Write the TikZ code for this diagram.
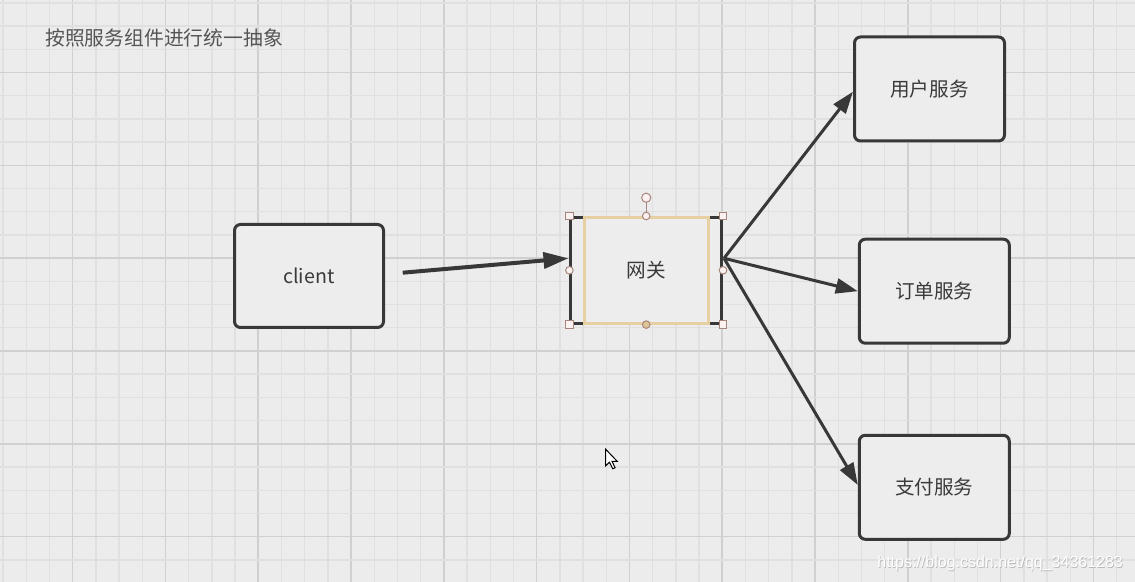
\documentclass[tikz,border=0pt]{standalone}
\usepackage{fontspec}
\setmainfont{Noto Sans CJK SC}
\newfontfamily\wmfont{Liberation Sans}
\usetikzlibrary{arrows.meta}
\definecolor{bg}{HTML}{ECECEC}
\definecolor{gridminor}{HTML}{E0E0E0}
\definecolor{gridmajor}{HTML}{D0D0D0}
\definecolor{boxline}{HTML}{383838}
\definecolor{boxfill}{HTML}{EDEDED}
\definecolor{txt}{HTML}{3A3A3A}
\definecolor{titletxt}{HTML}{555555}
\definecolor{selyellow}{HTML}{E6D0A2}
\definecolor{handleline}{HTML}{A8857C}
\definecolor{handlefill}{HTML}{FBF1F0}
\definecolor{handletan}{HTML}{DCC597}
\definecolor{wmshade}{HTML}{B8B8B8}
\begin{document}
\begin{tikzpicture}[x=0.5pt,y=-0.5pt,
  svc/.style={draw=boxline, line width=1.5pt, rounded corners=3pt, fill=boxfill,
    minimum width=75pt, minimum height=52pt, inner sep=0pt,
    font=\fontsize{9.8pt}{12pt}\selectfont, text=txt},
  link/.style={draw=boxline, line width=1.5pt,
    -{Triangle[length=11pt,width=7.5pt]}},
  biglink/.style={draw=boxline, line width=2pt,
    -{Triangle[length=12.5pt,width=8pt]}},
  sqhandle/.style={draw=handleline, fill=handlefill, line width=0.5pt,
    minimum size=3.6pt, inner sep=0pt, rectangle},
  cirhandle/.style={draw=handleline, fill=handlefill, line width=0.5pt,
    minimum size=3.8pt, inner sep=0pt, circle},
  minorline/.style={gridminor, line width=0.7pt},
  majorline/.style={gridmajor, line width=0.8pt}]

\useasboundingbox (0,0) rectangle (1135,582);
\fill[bg] (0,0) rectangle (1135,582);

% background grid: fine lines every 23.2px, every fourth one darker
\foreach \k in {0,...,48}{
  \pgfmathtruncatemacro{\m}{mod(\k,4)}
  \ifnum\m=3
    \draw[majorline] ({3+23.2*\k},0) -- ({3+23.2*\k},582);
  \else
    \draw[minorline] ({3+23.2*\k},0) -- ({3+23.2*\k},582);
  \fi
}
\foreach \k in {0,...,24}{
  \pgfmathtruncatemacro{\m}{mod(\k,4)}
  \ifnum\m=3
    \draw[majorline] (0,{3+23.2*\k}) -- (1135,{3+23.2*\k});
  \else
    \draw[minorline] (0,{3+23.2*\k}) -- (1135,{3+23.2*\k});
  \fi
}

% title
\node[anchor=west, inner sep=0pt, text=titletxt,
  font=\fontsize{9.9pt}{12pt}\selectfont] (title) at (45,38) {按照服务组件进行统一抽象};

% service boxes
\node[svc, minimum width=74.5pt, minimum height=51.5pt] (client) at (309,276) {client};
\node[svc] (usr) at (929.5,89) {用户服务};
\node[svc] (ord) at (934.3,291.2) {订单服务};
\node[svc] (pay) at (934.3,487.3) {支付服务};

% gateway, shown selected
\node[draw=boxline, line width=1.3pt, fill=boxfill, minimum width=75.5pt,
  minimum height=53pt, inner sep=0pt, font=\fontsize{9.8pt}{12pt}\selectfont,
  text=txt] (gw) at (646.2,270.3) {网关};
\draw[selyellow, line width=1.5pt] (584,217.3) rectangle (708.3,323.3);

% connectors
\coordinate (cstart) at (402.7,272.7);
\coordinate (gwin) at (568.5,258.3);
\coordinate (gwout) at (724,258.3);
\draw[biglink] (cstart) -- (gwin);
\draw[link] (gwout) -- (usr.west |- 0,91.7);
\draw[link] (gwout) -- (ord.west);
\draw[link] (gwout) -- (pay.west |- 0,485);

% selection handles
\coordinate (rot) at (646.2,197.7);
\draw[handleline, line width=0.6pt] (rot) -- (gw.north);
\node[cirhandle, minimum size=4.6pt] (hrot) at (rot) {};
\node[sqhandle] (hnw) at (gw.north west) {};
\node[sqhandle] (hne) at (gw.north east) {};
\node[sqhandle] (hsw) at (gw.south west) {};
\node[sqhandle] (hse) at (gw.south east) {};
\node[cirhandle] (hn) at (gw.north) {};
\node[cirhandle, fill=handletan] (hs) at (gw.south) {};
\node[cirhandle] (hw) at (gw.west) {};
\node[cirhandle] (he) at (gw.east) {};

% mouse pointer
\draw[black, fill=white, line width=0.5pt, line join=miter]
  (605.7,449.3) -- ++(0,16.5) -- ++(3.8,-3.6) -- ++(3.2,6.6) -- ++(2.4,-1.1)
  -- ++(-3.1,-6.4) -- ++(5.2,0) -- cycle;

% site watermark
\node[anchor=east, inner sep=0pt, text=wmshade, font=\wmfont\fontsize{8pt}{10pt}\selectfont]
  (wmback) at (1124,564) {https://blog.csdn.net/qq\_34361283};
\node[anchor=east, inner sep=0pt, text=white, font=\wmfont\fontsize{8pt}{10pt}\selectfont]
  (wm) at (1123.3,563.3) {https://blog.csdn.net/qq\_34361283};
\end{tikzpicture}
\end{document}
